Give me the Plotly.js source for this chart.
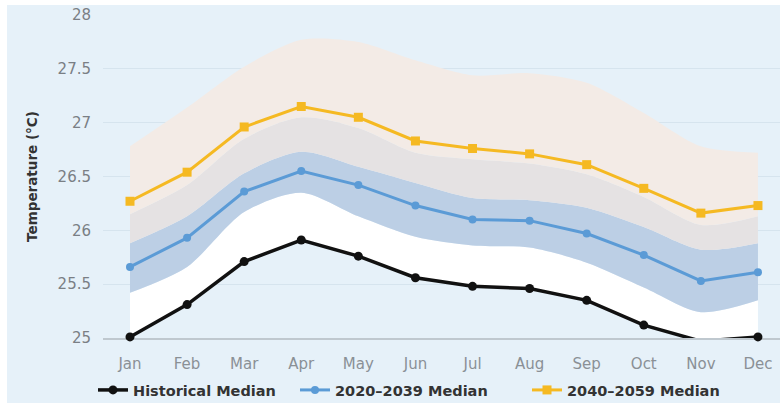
<!DOCTYPE html>
<html>
<head>
<meta charset="utf-8">
<script src="https://cdn.plot.ly/plotly-3.0.1.min.js"></script>
<style>html,body{margin:0;padding:0;background:#fff;}#chart{width:780px;height:407px;}</style>
</head>
<body>
<div id="chart"></div>
<script>
// ---- data ----
var months = ['Jan','Feb','Mar','Apr','May','Jun','Jul','Aug','Sep','Oct','Nov','Dec'];
var histMedian   = [25.01,25.31,25.71,25.91,25.76,25.56,25.48,25.46,25.35,25.12,24.97,25.01];
var median2020   = [25.66,25.93,26.36,26.55,26.42,26.23,26.10,26.09,25.97,25.77,25.53,25.61];
var median2040   = [26.27,26.54,26.96,27.15,27.05,26.83,26.76,26.71,26.61,26.39,26.16,26.23];
var range2020Low  = [25.42,25.66,26.17,26.35,26.13,25.94,25.86,25.84,25.70,25.47,25.24,25.35];
var range2020High = [25.88,26.13,26.53,26.73,26.59,26.44,26.30,26.28,26.21,26.03,25.82,25.88];
var range2040Low  = [26.15,26.42,26.85,27.05,26.95,26.72,26.66,26.62,26.52,26.31,26.05,26.13];
var range2040High = [26.78,27.14,27.52,27.77,27.75,27.58,27.44,27.46,27.37,27.09,26.78,26.72];
var yTickVals   = [25,25.5,26,26.5,27,27.5,28];
var yTickLabels = ['25','25.5','26','26.5','27','27.5','28'];
var seriesNames = ['Historical Median','2020\u20132039 Median','2040\u20132059 Median'];

var FONT = 'DejaVu Sans';
function band(y, color, shape) {
  return {x: months, y: y, type: 'scatter', mode: 'lines',
    line: {width: 0, shape: shape || 'spline', smoothing: 0.8},
    fill: color ? 'tonexty' : 'none', fillcolor: color,
    showlegend: false, hoverinfo: 'skip'};
}
var traces = [
  band(histMedian, null, 'linear'),
  band(range2020Low, '#ffffff'),
  band(range2020High, '#bccfe5'),
  band(range2040Low, '#e5e2e3'),
  band(range2040High, '#f3ebe6'),
  {x: months, y: histMedian, type: 'scatter', mode: 'lines+markers', name: seriesNames[0],
   line: {color: '#111111', width: 3.5}, marker: {color: '#111111', size: 9}, cliponaxis: false, legend: 'legend'},
  {x: months, y: median2020, type: 'scatter', mode: 'lines+markers', name: seriesNames[1],
   line: {color: '#5b9bd6', width: 3}, marker: {color: '#5b9bd6', size: 8}, legend: 'legend2'},
  {x: months, y: median2040, type: 'scatter', mode: 'lines+markers', name: seriesNames[2],
   line: {color: '#f5b922', width: 3}, marker: {color: '#f5b922', size: 9, symbol: 'square'}, legend: 'legend3'}
];

function leg(xpx) {
  return {orientation: 'h', xref: 'container', yref: 'container', x: xpx / 780, y: (407 - 390) / 407,
    xanchor: 'left', yanchor: 'middle', bgcolor: 'rgba(0,0,0,0)', borderwidth: 0,
    font: {family: FONT, size: 14.5, color: '#333333', weight: 'bold'}, itemwidth: 30};
}

var layout = {
  width: 780, height: 407,
  margin: {l: 103, r: 0, t: 15, b: 69},
  paper_bgcolor: '#ffffff',
  plot_bgcolor: 'rgba(0,0,0,0)',
  showlegend: true,
  legend: leg(93), legend2: leg(295), legend3: leg(527),
  xaxis: {
    type: 'category', categoryarray: months, range: [-0.473, 11.386],
    showgrid: false, zeroline: false, showline: true, linecolor: '#bfc8cf', linewidth: 2,
    ticks: '', ticklabelstandoff: 11, layer: 'below traces',
    tickfont: {family: FONT, size: 15, color: '#8a9096'}, fixedrange: true
  },
  yaxis: {
    range: [25, 28], tickvals: yTickVals, ticktext: yTickLabels,
    showgrid: true, gridcolor: '#d6e4ee', gridwidth: 1, zeroline: false, showline: false,
    ticks: '', ticklabelstandoff: 11, layer: 'below traces',
    tickfont: {family: FONT, size: 15, color: '#7a7f85'},
    title: {text: 'Temperature (\u00b0C)', standoff: 16,
      font: {family: FONT, size: 13.5, color: '#333333', weight: 'bold'}},
    fixedrange: true
  },
  shapes: [{type: 'rect', xref: 'paper', yref: 'paper', layer: 'below',
    x0: -0.1418, x1: 1.0, y0: -0.201, y1: 1.031, fillcolor: '#e6f1f9', line: {width: 0}}]
};

Plotly.newPlot('chart', traces, layout, {displayModeBar: false, staticPlot: true});
</script>
</body>
</html>
